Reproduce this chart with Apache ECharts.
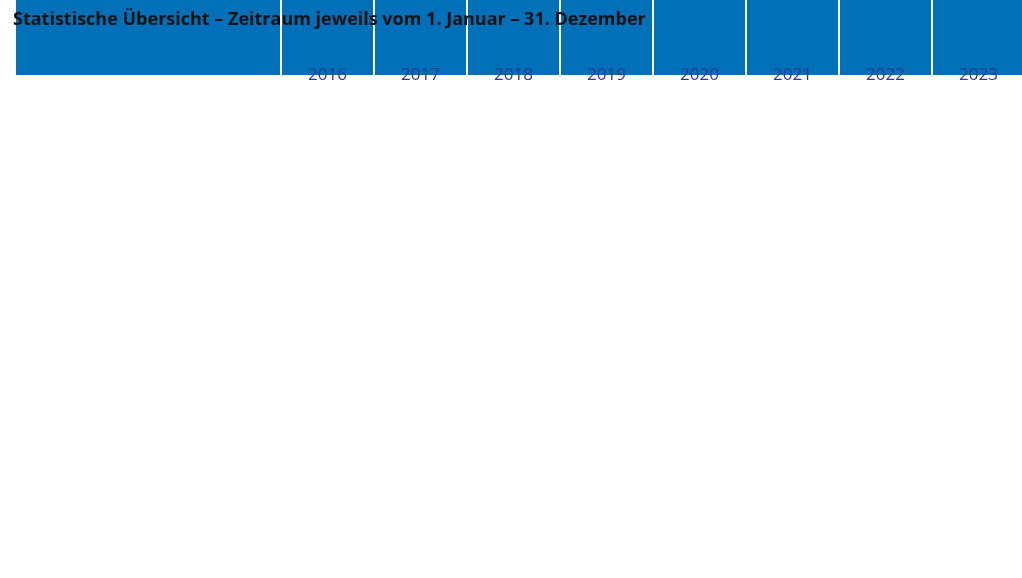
<!DOCTYPE html>
<html>
<head>
<meta charset="utf-8">
<script src="https://cdn.jsdelivr.net/npm/echarts@6/dist/echarts.min.js"></script>
<style>html,body{margin:0;padding:0;background:#fff}#main{width:1022px;height:578px}</style>
</head>
<body>
<div id="main"></div>
<script>
var years = ['2016', '2017', '2018', '2019', '2020', '2021', '2022', '2023'];
var rowLabels = ['Beschwerden', 'Kontrollen', 'Beratungen¹', 'Anmeldungen Bildungs-\nund Beratungszentrum\nBIDIB', 'Datenpannen', 'Bußgeldverfahren\n(eingeleitet)'];
var beschwerden = ['2.048', '3.058', '3.902', '3.757', '4.782', '4.708', '3.796', '3.817'];
var kontrollen = ['16', '55', '13', '111', '31', '10', '33', '71'];
var beratungen = ['1.515', '1.786', '4.440', '3.842', '3.285', '2.206', '1.935', '1.682'];
var anmeldungen = ['', '', '', '', '785', '2.016', '3.255', '3.732'];
var datenpannen = ['68', '121', '900', '2.030', '2.321', '3.136', '2.747', '2.913'];
var bussgeld = ['', '', '138', '233', '174', '136', '213', '185'];
var rowsData = [beschwerden, kontrollen, beratungen, anmeldungen, datenpannen, bussgeld];

// layout
var left = 16, labelW = 264, colW = 91, gap = 2, top = 89;
var rowH = [75, 75, 75, 86, 76, 74];
var blue = '#0071b9', light = '#d5e0ef';

function rowTop(r) { var y = top; for (var i = 0; i < r; i++) y += rowH[i] + gap; return y; }
function colLeft(c) { return c < 0 ? left : left + labelW + gap + c * (colW + gap); }

var cells = [];
rowsData.forEach(function (vals, r) {
  cells.push({ r: r, c: -1, t: rowLabels[r] });
  vals.forEach(function (v, c) { cells.push({ r: r, c: c, t: v }); });
});
years.forEach(function (y, c) { cells.push({ r: -1, c: c, t: y }); });

var chart = echarts.init(document.getElementById('main'));
chart.setOption({
  animation: false,
  title: { text: 'Statistische Übersicht – Zeitraum jeweils vom 1. Januar – 31. Dezember', left: 8, top: 6,
    textStyle: { fontFamily: 'Open Sans', fontSize: 18, fontWeight: 'bold', color: '#111' } },
  series: [{
    type: 'custom', coordinateSystem: 'none',
    data: cells.map(function (d, i) { return [i]; }),
    renderItem: function (params, api) {
      var d = cells[params.dataIndex];
      var r = d.r, c = d.c, txt = d.t;
      var x = colLeft(c), w = c < 0 ? labelW : colW;
      if (r < 0) {
        return { type: 'text', style: { text: txt, x: x + w / 2, y: 75, align: 'center', verticalAlign: 'middle',
          fill: '#283c8c', font: '17px "Open Sans"' } };
      }
      var y = rowTop(r), h = rowH[r], dark = r % 2 === 0;
      var ty = y + h / 2;
      if (r === 5 && c >= 0) ty = y + h / 2 + 13;
      return { type: 'group', children: [
        { type: 'rect', shape: { x: x, y: y, width: w, height: h }, style: { fill: dark ? blue : light } },
        { type: 'text', style: { text: txt, x: c < 0 ? x + 8 : x + w - 10, y: ty,
          align: c < 0 ? 'left' : 'right', verticalAlign: 'middle', lineHeight: 27,
          fill: dark ? '#fff' : '#111', font: '19px "Open Sans"' } }
      ] };
    }
  }]
});
</script>
</body>
</html>
